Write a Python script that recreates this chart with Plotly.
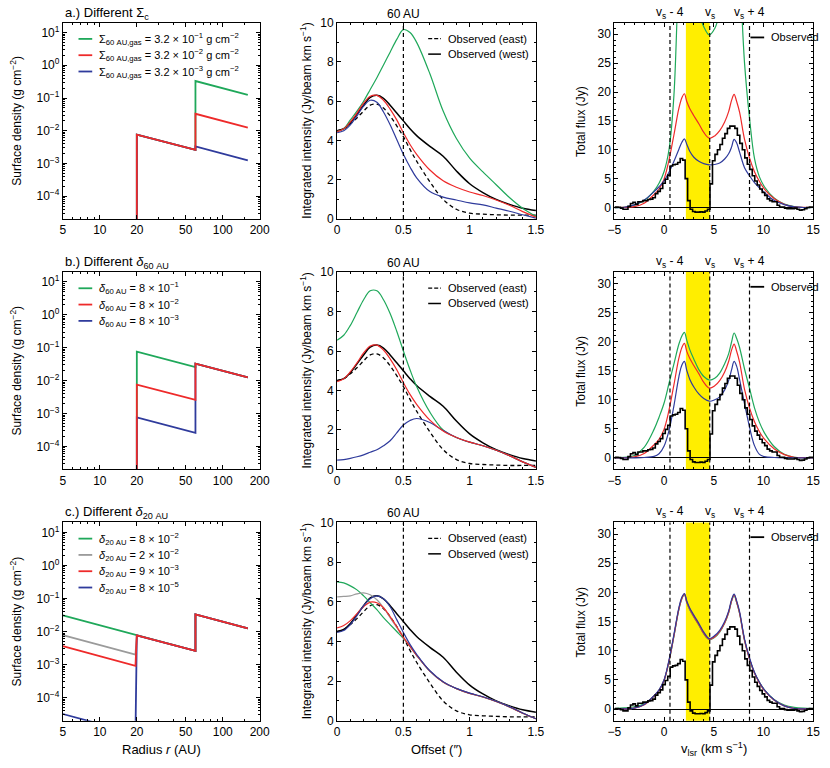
import math
import plotly.graph_objects as go

# ---------------- data ----------------
# column 1: surface density profiles (radius in AU, sigma in g cm^-2)
r_ab = [20, 20, 60, 60, 160]
sig_a_green = [1e-6, 7.6e-3, 2.6e-3, 3.3e-1, 1.25e-1]
sig_a_red = [1e-6, 7.6e-3, 2.6e-3, 3.3e-2, 1.25e-2]
sig_a_blue = [1e-6, 7.6e-3, 2.6e-3, 3.3e-3, 1.25e-3]
sig_b_green = [1e-6, 7.6e-2, 2.6e-2, 3.3e-2, 1.25e-2]
sig_b_red = [1e-6, 7.6e-3, 2.6e-3, 3.3e-2, 1.25e-2]
sig_b_blue = [1e-6, 7.6e-4, 2.6e-4, 3.3e-2, 1.25e-2]
r_c = [5, 19.5, 20, 60, 60, 160]
sig_c_green = [3.1e-2, 7.8e-3, 7.6e-3, 2.6e-3, 3.3e-2, 1.25e-2]
sig_c_gray = [7.8e-3, 2.0e-3, 7.6e-3, 2.6e-3, 3.3e-2, 1.25e-2]
sig_c_red = [3.6e-3, 9.2e-4, 7.6e-3, 2.6e-3, 3.3e-2, 1.25e-2]
sig_c_blue = [3.2e-5, 8.2e-6, 7.6e-3, 2.6e-3, 3.3e-2, 1.25e-2]

r_ticks = [5, 10, 20, 50, 100, 200]
r_minor = [6, 7, 8, 9, 30, 40, 60, 70, 80, 90, 150]
sig_ticks = [1e-4, 1e-3, 1e-2, 1e-1, 1, 10]
sig_ticktext = ["10<sup>−4</sup>", "10<sup>−3</sup>", "10<sup>−2</sup>",
                "10<sup>−1</sup>", "10<sup>0</sup>", "10<sup>1</sup>"]

# column 2: integrated intensity vs offset (arcsec)
offset = [0, 0.05, 0.1, 0.15, 0.2, 0.25, 0.3, 0.35, 0.4, 0.45, 0.5, 0.55, 0.6,
          0.7, 0.8, 0.9, 1.0, 1.1, 1.2, 1.3, 1.4, 1.5]
obs_east = [4.5, 4.6, 4.85, 5.15, 5.5, 5.8, 5.85, 5.65, 5.25, 4.75, 4.2, 3.55, 2.95,
            1.9, 1.0, 0.5, 0.3, 0.25, 0.22, 0.2, 0.2, 0.2]
obs_west = [4.5, 4.6, 4.9, 5.35, 5.8, 6.2, 6.3, 6.15, 5.8, 5.4, 5.0, 4.6, 4.25,
            3.7, 3.2, 2.45, 1.8, 1.35, 1.0, 0.75, 0.55, 0.43]
int_a_green = [4.45, 4.6, 5.05, 5.5, 6.0, 6.6, 7.2, 7.85, 8.5, 9.15, 9.65, 9.5, 9.0,
               7.4, 5.5, 4.1, 3.1, 2.4, 1.75, 1.1, 0.55, 0.13]
int_red = [4.45, 4.6, 4.95, 5.4, 5.9, 6.25, 6.3, 6.05, 5.6, 5.05, 4.4, 3.8, 3.3,
           2.5, 1.95, 1.62, 1.38, 1.2, 0.97, 0.7, 0.38, 0.1]
int_a_blue = [4.4, 4.5, 4.8, 5.25, 5.75, 6.05, 5.95, 5.45, 4.8, 4.05, 3.3, 2.65, 2.1,
              1.4, 1.12, 0.97, 0.82, 0.72, 0.56, 0.4, 0.22, 0.05]
int_b_green = [6.55, 6.8, 7.3, 7.95, 8.6, 9.05, 9.05, 8.6, 7.9, 7.0, 6.0, 5.05, 4.2,
               2.9, 2.0, 1.62, 1.38, 1.2, 0.97, 0.7, 0.38, 0.1]
int_b_blue = [0.47, 0.5, 0.56, 0.64, 0.74, 0.87, 1.0, 1.2, 1.45, 1.85, 2.25, 2.48, 2.58,
              2.38, 1.97, 1.62, 1.38, 1.2, 0.97, 0.7, 0.38, 0.1]
int_c_green = [7.0, 6.95, 6.8, 6.6, 6.3, 5.95, 5.6, 5.2, 4.85, 4.5, 4.15, 3.75, 3.3,
               2.5, 1.95, 1.62, 1.38, 1.2, 0.97, 0.7, 0.38, 0.1]
int_c_gray = [6.25, 6.27, 6.3, 6.4, 6.45, 6.35, 6.1, 5.7, 5.2, 4.7, 4.2, 3.75, 3.3,
              2.5, 1.95, 1.62, 1.38, 1.2, 0.97, 0.7, 0.38, 0.1]
int_c_red = [4.68, 4.8, 5.05, 5.4, 5.75, 5.98, 5.95, 5.7, 5.25, 4.75, 4.2, 3.75, 3.3,
             2.5, 1.95, 1.62, 1.38, 1.2, 0.97, 0.7, 0.38, 0.1]
int_c_blue = [4.45, 4.55, 4.85, 5.3, 5.8, 6.15, 6.3, 6.15, 5.75, 5.1, 4.45, 3.85, 3.35,
              2.52, 1.97, 1.63, 1.39, 1.21, 0.98, 0.71, 0.39, 0.1]
offset_60au = 0.5

# column 3: total flux spectra (km/s, Jy)
v_obs = [-5 + 0.25 * i for i in range(81)]
flux_obs = [0.0, 0.1, 0.05, -0.1, -0.3, -0.3, 0.2, 0.7, 0.9, 0.55,
            1.0, 1.0, 1.2, 1.2, 1.4, 1.45, 1.7, 2.4, 2.8, 3.3,
            4.2, 4.9, 5.6, 7.2, 7.4, 7.5, 7.8, 8.5, 8.2, 5.0,
            1.2, -0.3, -0.7, -0.8, -0.8, -0.75, -0.8, -0.6, -0.3, 4.1,
            8.1, 9.2, 10.0, 10.9, 12.0, 12.8, 13.7, 14.1, 14.1, 13.7,
            12.5, 11.1, 10.0, 8.6, 7.5, 6.6, 5.5, 4.6, 3.9, 3.2,
            2.6, 2.1, 1.5, 1.2, 1.0, 1.0, 0.4, 0.1, 0.1, -0.1,
            -0.2, -0.2, -0.2, -0.1, -0.3, -0.45, -0.4, -0.2, 0.0, 0.1, 0.1]
v_mod = [-5, -4, -3, -2, -1, -0.5, 0, 0.5, 1.0, 1.5, 1.8, 2.05, 2.3, 2.6, 3.0, 3.5,
         4.0, 4.55, 5.1, 5.6, 6.1, 6.5, 6.8, 7.05, 7.3, 7.6, 8.1, 8.6, 9.1, 9.6,
         10.1, 11.1, 12.1, 13.1, 14, 15]
flux_red = [0, 0.02, 0.15, 0.75, 2.25, 3.2, 4.9, 8.2, 12.6, 17.2, 19.0, 19.7, 18.3, 17.1,
            15.9, 14.5, 13.0, 12.0, 12.4, 13.3, 14.8, 16.6, 18.6, 19.6, 18.4, 16.5,
            11.8, 8.6, 6.2, 4.5, 3.2, 1.5, 0.55, 0.1, 0.02, 0]
flux_a_blue = [0, 0.05, 0.45, 1.3, 2.75, 3.6, 4.6, 6.1, 8.0, 10.1, 11.3, 11.9, 10.9, 9.7,
               8.7, 8.0, 7.6, 7.4, 7.45, 7.7, 8.4, 9.3, 10.5, 11.8, 11.2, 9.6,
               6.9, 5.5, 4.3, 3.4, 2.6, 1.2, 0.5, 0.1, 0, 0]
flux_a_green = [0, 0.05, 0.4, 1.2, 2.9, 4.2, 6.2, 10.0, 19.5, 42, 50, 53, 50, 46,
                40, 34, 31.3, 29.9, 31.0, 33.8, 40, 46, 50, 53, 50, 42,
                25, 15.5, 8.5, 5.3, 3.6, 1.6, 0.6, 0.15, 0, 0]
flux_b_green = [0, 0.1, 0.4, 1.8, 4.9, 7.0, 9.4, 12.8, 16.2, 19.6, 21.0, 21.6, 20.2, 18.6,
                17.0, 15.2, 14.0, 13.4, 13.7, 14.6, 16.2, 17.9, 20.0, 21.5, 20.6, 19.0,
                15.3, 12.0, 8.6, 6.1, 4.3, 1.9, 0.6, 0.1, 0, 0]
flux_b_blue = [0, 0, 0, 0.05, 0.25, 0.7, 2.0, 4.7, 9.0, 14.0, 16.0, 16.6, 15.0, 13.5,
               12.2, 11.0, 10.2, 9.75, 10.0, 10.5, 11.7, 13.3, 15.2, 16.6, 15.8, 13.5,
               9.3, 5.3, 2.1, 0.6, 0.2, 0.05, 0, 0, 0, 0]
flux_c_green = [0.1, 0.2, 0.4, 0.9, 2.3, 3.2, 4.9, 8.1, 12.5, 17.1, 18.9, 19.6, 18.2, 17.0,
                15.8, 14.4, 12.9, 11.9, 12.3, 13.2, 14.7, 16.5, 18.5, 19.5, 18.3, 16.4,
                11.8, 8.6, 6.2, 4.6, 3.3, 1.6, 0.7, 0.3, 0.15, 0.1]
flux_c_blue = [0, 0.02, 0.15, 0.8, 2.3, 3.3, 5.0, 8.4, 12.8, 17.4, 19.2, 19.8, 18.5, 17.3,
               16.1, 14.7, 13.2, 12.1, 12.6, 13.5, 15.0, 16.8, 18.8, 19.7, 18.6, 16.7,
               12.0, 8.8, 6.3, 4.6, 3.3, 1.55, 0.55, 0.1, 0.02, 0]
v_sys = 4.6
v_band = [2.2, 4.6]

# ---------------- style ----------------
FONT = "Liberation Sans"
GREEN = "#1fa85a"
RED = "#ee2a2a"
BLUE = "#2f3b9c"
GRAY = "#9b9b9b"
BLACK = "#000000"
YELLOW = "#ffee00"
W, H = 830, 768
COLS = [(57, 258), (337, 540), (620, 823)]
ROWS = [(16, 216), (270, 471), (525, 727)]


def px(x):
    return x / W


def py(y):
    return 1 - y / H


def xn(n):
    return "x" if n == 1 else f"x{n}"


def yn(n):
    return "y" if n == 1 else f"y{n}"


fig = go.Figure()


def add(n, x, y, color, width, dash="solid", shape="linear"):
    fig.add_trace(go.Scatter(
        x=x, y=y, mode="lines", xaxis=xn(n), yaxis=yn(n), showlegend=False,
        hoverinfo="skip", line=dict(color=color, width=width, dash=dash, shape=shape)))


# column 1
add(1, r_ab, sig_a_green, GREEN, 1.8)
add(1, r_ab, sig_a_blue, BLUE, 1.8)
add(1, r_ab, sig_a_red, RED, 1.8)
add(4, r_ab, sig_b_green, GREEN, 1.8)
add(4, r_ab, sig_b_blue, BLUE, 1.8)
add(4, r_ab, sig_b_red, RED, 1.8)
add(7, r_c, sig_c_green, GREEN, 1.8)
add(7, r_c, sig_c_gray, GRAY, 1.8)
add(7, r_c, sig_c_blue, BLUE, 1.8)
add(7, r_c, sig_c_red, RED, 1.8)

# column 2
for n in (2, 5, 8):
    add(n, offset, obs_east, BLACK, 1.3, dash="4px,3px", shape="spline")
    add(n, offset, obs_west, BLACK, 1.5, shape="spline")
add(2, offset, int_a_green, GREEN, 1.2, shape="spline")
add(2, offset, int_a_blue, BLUE, 1.2, shape="spline")
add(2, offset, int_red, RED, 1.2, shape="spline")
add(5, offset, int_b_green, GREEN, 1.2, shape="spline")
add(5, offset, int_b_blue, BLUE, 1.2, shape="spline")
add(5, offset, int_red, RED, 1.2, shape="spline")
add(8, offset, int_c_green, GREEN, 1.2, shape="spline")
add(8, offset, int_c_gray, GRAY, 1.2, shape="spline")
add(8, offset, int_c_red, RED, 1.2, shape="spline")
add(8, offset, int_c_blue, BLUE, 1.2, shape="spline")

# column 3
add(3, v_mod, flux_a_green, GREEN, 1.2, shape="spline")
add(3, v_mod, flux_red, RED, 1.2, shape="spline")
add(3, v_mod, flux_a_blue, BLUE, 1.2, shape="spline")
add(6, v_mod, flux_b_green, GREEN, 1.2, shape="spline")
add(6, v_mod, flux_red, RED, 1.2, shape="spline")
add(6, v_mod, flux_b_blue, BLUE, 1.2, shape="spline")
add(9, v_mod, flux_c_green, GREEN, 1.2, shape="spline")
add(9, v_mod, flux_red, GRAY, 1.2, shape="spline")
add(9, v_mod, flux_red, RED, 1.2, shape="spline")
add(9, v_mod, flux_c_blue, BLUE, 1.2, shape="spline")
for n in (3, 6, 9):
    add(n, v_obs, flux_obs, BLACK, 1.6, shape="hvh")

# ---------------- axes ----------------
tickfont = dict(family=FONT, size=12, color="black")


def base_axis():
    return dict(showline=True, linecolor="black", linewidth=1, mirror="allticks",
                ticks="inside", ticklen=4, tickwidth=1, tickcolor="black",
                showgrid=False, zeroline=False, tickfont=tickfont)


lay = {}
for r in range(3):
    for c in range(3):
        n = r * 3 + c + 1
        xa = base_axis()
        ya = base_axis()
        xa.update(domain=[px(COLS[c][0]), px(COLS[c][1])], anchor=yn(n))
        ya.update(domain=[py(ROWS[r][1]), py(ROWS[r][0])], anchor=xn(n))
        minor = dict(ticks="inside", ticklen=2, tickwidth=0.8, tickcolor="black", showgrid=False)
        if c == 0:
            xa.update(type="log", range=[math.log10(5), math.log10(200)], tickmode="array",
                      tickvals=r_ticks, ticktext=[str(t) for t in r_ticks],
                      minor=dict(minor, tickmode="array", tickvals=r_minor))
            sig_minor = [m * 10 ** e for e in range(-5, 2) for m in range(2, 10)
                         if 2e-5 <= m * 10 ** e <= 20]
            ya.update(type="log", range=[math.log10(2e-5), math.log10(20)], tickmode="array",
                      tickvals=sig_ticks, ticktext=sig_ticktext,
                      minor=dict(minor, tickmode="array", tickvals=sig_minor))
        elif c == 1:
            xa.update(range=[0, 1.5], tickmode="array", tickvals=[0, 0.5, 1, 1.5],
                      ticktext=["0", "0.5", "1", "1.5"], minor=dict(minor, dtick=0.1))
            ya.update(range=[0, 10], dtick=2, tick0=0, minor=dict(minor, dtick=1))
        else:
            xa.update(range=[-5, 15], dtick=5, tick0=0, minor=dict(minor, dtick=1))
            ya.update(range=[-2, 32], tickmode="array", tickvals=[0, 5, 10, 15, 20, 25, 30],
                      minor=dict(minor, dtick=1), zeroline=True, zerolinecolor="black",
                      zerolinewidth=0.8)
        lay["xaxis" if n == 1 else f"xaxis{n}"] = xa
        lay["yaxis" if n == 1 else f"yaxis{n}"] = ya

shapes = []
annotations = []


def ann(x, y, text, size=12, xanchor="center", yanchor="middle", angle=0, xref="paper", yref="paper"):
    annotations.append(dict(x=x, y=y, xref=xref, yref=yref, text=text, showarrow=False,
                            xanchor=xanchor, yanchor=yanchor, textangle=angle,
                            font=dict(family=FONT, size=size, color="black")))


def swatch(x0, x1, y, color, dash="solid", width=1.8):
    shapes.append(dict(type="line", xref="paper", yref="paper", x0=px(x0), x1=px(x1),
                       y0=py(y), y1=py(y), line=dict(color=color, width=width, dash=dash)))


titles = ["a.) Different Σ<sub>c</sub>", "b.) Different <i>δ</i><sub>60 AU</sub>",
          "c.) Different <i>δ</i><sub>20 AU</sub>"]
legend_col1 = [
    [("Σ<sub>60 AU,gas</sub> = 3.2 × 10<sup>−1</sup> g cm<sup>−2</sup>", GREEN),
     ("Σ<sub>60 AU,gas</sub> = 3.2 × 10<sup>−2</sup> g cm<sup>−2</sup>", RED),
     ("Σ<sub>60 AU,gas</sub> = 3.2 × 10<sup>−3</sup> g cm<sup>−2</sup>", BLUE)],
    [("<i>δ</i><sub>60 AU</sub> = 8 × 10<sup>−1</sup>", GREEN),
     ("<i>δ</i><sub>60 AU</sub> = 8 × 10<sup>−2</sup>", RED),
     ("<i>δ</i><sub>60 AU</sub> = 8 × 10<sup>−3</sup>", BLUE)],
    [("<i>δ</i><sub>20 AU</sub> = 8 × 10<sup>−2</sup>", GREEN),
     ("<i>δ</i><sub>20 AU</sub> = 2 × 10<sup>−2</sup>", GRAY),
     ("<i>δ</i><sub>20 AU</sub> = 9 × 10<sup>−3</sup>", RED),
     ("<i>δ</i><sub>20 AU</sub> = 8 × 10<sup>−5</sup>", BLUE)],
]

for r in range(3):
    top, bot = ROWS[r]
    mid = (top + bot) / 2
    n1, n2, n3 = r * 3 + 1, r * 3 + 2, r * 3 + 3
    # panel title
    ann(px(57), py(top + 1), titles[r], size=13, xanchor="left", yanchor="bottom")
    # y titles
    ann(px(9), py(mid), "Surface density (g cm<sup>−2</sup>)", angle=-90)
    ann(px(305), py(mid), "Integrated intensity (Jy/beam km s<sup>−1</sup>)", angle=-90)
    ann(px(586), py(mid), "Total flux (Jy)", angle=-90)
    # column 1 legend
    for i, (txt, col) in enumerate(legend_col1[r]):
        yy = top + 16.5 + i * 16.6
        swatch(73, 87, yy, col)
        ann(px(92), py(yy), txt, size=11, xanchor="left")
    # column 2: 60 AU marker
    shapes.append(dict(type="line", xref=xn(n2), yref=f"{yn(n2)} domain", x0=offset_60au,
                       x1=offset_60au, y0=0, y1=1,
                       line=dict(color="black", width=1.2, dash="4px,3px")))
    ann(offset_60au, 1, "60 AU", size=12, yanchor="bottom", xref=xn(n2), yref=f"{yn(n2)} domain")
    swatch(430, 443, top + 16.3, BLACK, dash="4px,2px", width=1.3)
    ann(px(448), py(top + 16.3), "Observed (east)", size=11, xanchor="left")
    swatch(430, 443, top + 32, BLACK, width=1.5)
    ann(px(448), py(top + 32), "Observed (west)", size=11, xanchor="left")
    # column 3: band and velocity markers
    shapes.append(dict(type="rect", xref=xn(n3), yref=f"{yn(n3)} domain", x0=v_band[0],
                       x1=v_band[1], y0=0, y1=1, fillcolor=YELLOW, line=dict(width=0),
                       layer="below"))
    for dv, lab in ((-4, "v<sub>s</sub> - 4"), (0, "v<sub>s</sub>"), (4, "v<sub>s</sub> + 4")):
        shapes.append(dict(type="line", xref=xn(n3), yref=f"{yn(n3)} domain", x0=v_sys + dv,
                           x1=v_sys + dv, y0=0, y1=1,
                           line=dict(color="black", width=1.2, dash="4px,3px")))
        ann(v_sys + dv, 1, lab, size=12, yanchor="bottom", xref=xn(n3), yref=f"{yn(n3)} domain")
    swatch(759, 773, top + 15, BLACK, width=1.8)
    ann(px(778), py(top + 15), "Observed", size=11, xanchor="left")

# x titles
ann(px(157.5), py(756), "Radius <i>r</i> (AU)", size=13)
ann(px(438.5), py(756), "Offset (″)", size=13)
ann(px(721.5), py(756), "v<sub>lsr</sub> (km s<sup>−1</sup>)", size=13)

fig.update_layout(width=W, height=H, margin=dict(l=0, r=0, t=0, b=0),
                  paper_bgcolor="white", plot_bgcolor="white",
                  font=dict(family=FONT, size=12, color="black"),
                  shapes=shapes, annotations=annotations, **lay)

fig.write_html("out.html", config={"displayModeBar": False},
               post_script="document.body.style.margin='0';")
